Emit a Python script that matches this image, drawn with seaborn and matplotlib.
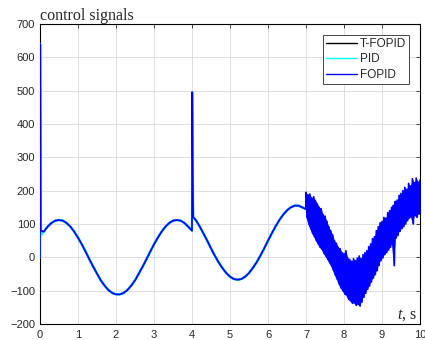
import numpy as np
import matplotlib
matplotlib.use("Agg")
import matplotlib.pyplot as plt
import seaborn as sns

# ---------------------------------------------------------
# data
# ---------------------------------------------------------
# start-up kick at t = 0
t_start = [0.0, 0.004, 0.02, 0.05]
fopid_start = [0, 640, 82, 78]
pid_start = [0, 640, 67, 70]

# first smooth wave, t = 0.1 ... 4.0
t_wave1 = np.arange(1, 41) / 10
u_wave1 = [77, 92, 103, 110, 112, 110, 103, 92, 77, 59,
           39, 17, -6, -28, -49, -69, -85, -98, -107, -111,
           -111, -107, -98, -85, -69, -49, -28, -6, 17, 39,
           59, 77, 92, 103, 110, 112, 110, 103, 92, 80]

# disturbance kick at t = 4
t_kick = [4.005, 4.03]
u_kick = [495, 121]

# second smooth wave, t = 4.1 ... 7.0
t_wave2 = np.arange(41, 71) / 10
u_wave2 = [112, 93, 72, 50, 27, 5, -15, -32, -47, -58,
           -65, -67, -65, -58, -47, -32, -15, 5, 27, 50,
           72, 93, 112, 128, 141, 150, 155, 155, 150, 145]

# noisy part, t = 7.00 ... 10.00 every 0.05 s: upper / lower edge of the band
t_band = np.arange(140, 201) / 20
band_upper = [195, 188, 190, 178, 182, 170, 160, 150, 146, 128,
              124, 108, 92, 80, 68, 50, 42, 30, 26, 14,
              12, 20, -2, -6, -12, -4, -10, -2, 4, -4,
              8, 14, 20, 32, 40, 56, 62, 80, 92, 104,
              108, 120, 118, 134, 140, 150, 156, 168, 172, 186,
              192, 200, 210, 204, 222, 214, 236, 224, 238, 226,
              232]
band_lower = [120, 100, 86, 72, 62, 50, 40, 30, 24, 12,
              4, -6, -16, -26, -40, -54, -66, -80, -92, -100,
              -110, -114, -126, -130, -138, -136, -144, -140, -146, -134,
              -120, -108, -96, -86, -74, -62, -52, -40, -24, -10,
              -2, 8, 14, 22, 30, 40, -25, 58, 66, 78,
              86, 92, 100, 110, 118, 122, 100, 126, 120, 130,
              132]

x_ticks = list(range(0, 11))
y_ticks = list(range(-200, 701, 100))

# the noisy signal jumps between the two edges
t_zig = np.column_stack([t_band, t_band + 0.025]).ravel()
u_zig = np.column_stack([band_upper, band_lower]).ravel()

t_smooth = np.concatenate([t_start, t_wave1, t_kick, t_wave2])
u_fopid = np.concatenate([fopid_start, u_wave1, u_kick, u_wave2, u_zig])
u_pid = np.concatenate([pid_start, u_wave1, u_kick, u_wave2])
u_tfopid = np.concatenate([fopid_start, u_wave1, u_kick, u_wave2])
t_all = np.concatenate([t_smooth, t_zig])

# ---------------------------------------------------------
# plot
# ---------------------------------------------------------
sns.set_style("whitegrid")
plt.rcParams['font.family'] = ['Liberation Sans', 'DejaVu Sans']
plt.rcParams['mathtext.fontset'] = 'custom'
plt.rcParams['mathtext.rm'] = 'Liberation Serif'
plt.rcParams['mathtext.it'] = 'Liberation Serif:italic'

fig = plt.figure(figsize=(4.25, 3.4), dpi=100)
ax = fig.add_axes([40 / 425, 16 / 340, 380 / 425, 300 / 340])

# T-FOPID and PID lie under FOPID almost everywhere
sns.lineplot(x=t_smooth, y=u_tfopid, ax=ax, color='black', lw=1.4,
             label='T-FOPID', sort=False, estimator=None, zorder=3)
sns.lineplot(x=t_smooth, y=u_pid, ax=ax, color='cyan', lw=1.6,
             label='PID', sort=False, estimator=None, zorder=3)
ax.fill_between(t_band, band_lower, band_upper, color='blue', lw=0, zorder=3)
sns.lineplot(x=t_all, y=u_fopid, ax=ax, color='blue', lw=1.2,
             label='FOPID', sort=False, estimator=None, zorder=3)

ax.set_xlim(0, 10)
ax.set_ylim(-200, 700)
ax.set_xticks(x_ticks)
ax.set_yticks(y_ticks)
ax.grid(True, color='#d8d8d8', lw=0.6)
for s in ax.spines.values():
    s.set_color('black')
    s.set_linewidth(0.8)
ax.tick_params(direction='in', length=3, width=0.6, top=True, right=True,
               labelsize=8, labelcolor='#262626', color='#262626')
ax.tick_params(axis='x', pad=4.5)
ax.tick_params(axis='y', pad=3.5)

ax.set_title('control signals', loc='left', fontfamily='Liberation Serif',
             fontsize=11.5, pad=3)
ax.text(0.992, 0.017, r'$t$, s', transform=ax.transAxes, ha='right',
        va='baseline', fontfamily='Liberation Serif', fontsize=11.5)

leg = ax.legend(loc='upper right', fontsize=8.5, frameon=True, fancybox=False,
                edgecolor='#262626', framealpha=1, handlelength=2.6,
                handletextpad=0.25, labelspacing=0.28, borderpad=0.25,
                borderaxespad=0.95)
leg.get_frame().set_linewidth(0.6)
leg.set_zorder(5)
for line in leg.get_lines():
    line.set_linewidth(1.0)

fig.savefig('out.png', dpi=100)
